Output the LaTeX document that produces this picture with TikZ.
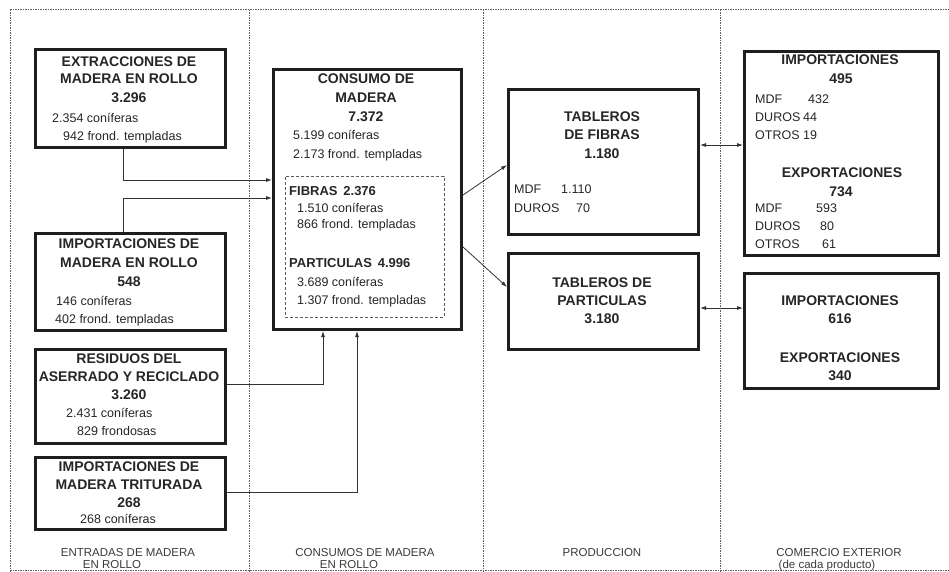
\documentclass[tikz,border=0pt]{standalone}
\usepackage{fontspec}
\setmainfont{Liberation Sans}
\usetikzlibrary{arrows.meta}
\definecolor{txtc}{HTML}{262626}
\definecolor{boxc}{HTML}{1E1E1E}
\definecolor{linec}{HTML}{333333}
\definecolor{labc}{HTML}{3A3A3A}
\definecolor{framec}{HTML}{606060}
\tikzset{
  box/.style={draw=boxc, line width=3pt, anchor=north west, inner sep=0pt},
  innerbox/.style={draw=linec!80, line width=0.8pt, dash pattern=on 3pt off 2pt, anchor=north west, inner sep=0pt},
  ttl/.style={font=\bfseries\fontsize{14}{16}\selectfont, text=txtc, inner sep=0pt, anchor=base},
  sttl/.style={font=\bfseries\fontsize{13}{15}\selectfont, text=txtc, inner sep=0pt, anchor=base west},
  sm/.style={font=\fontsize{12.5}{14}\selectfont, text=txtc, inner sep=0pt, anchor=base west},
  lab/.style={font=\fontsize{11.5}{13}\selectfont, text=labc, inner sep=0pt, anchor=base},
  arr/.style={draw=linec, line width=0.8pt, -{Latex[length=6pt,width=4pt]}},
  darr/.style={draw=linec, line width=0.8pt, {Latex[length=6pt,width=4pt]}-{Latex[length=6pt,width=4pt]}},
  framel/.style={draw=framec, line width=1pt, dash pattern=on 1.5pt off 1pt}
}
\begin{document}
\begin{tikzpicture}[x=1pt,y=-1pt]
\useasboundingbox (0,0) rectangle (949,572);
\clip (0,0) rectangle (949,572);
% frame
\draw[framel] (10,10) -- (949,10);
\draw[framel] (10,570) -- (949,570);
\draw[framel] (10,10) -- (10,572);
\draw[framel] (249,10) -- (249,572);
\draw[framel] (483,10) -- (483,572);
\draw[framel] (720,10) -- (720,572);

% boxes
\node[box, minimum width=190pt, minimum height=98pt] (b1) at (34,48) {};
\node[box, minimum width=190pt, minimum height=97pt] (b2) at (34,232) {};
\node[box, minimum width=190pt, minimum height=94pt] (b3) at (34,348) {};
\node[box, minimum width=190pt, minimum height=72pt] (b4) at (34,456) {};
\node[box, minimum width=188pt, minimum height=260pt] (cons) at (272,68) {};
\node[innerbox, minimum width=159pt, minimum height=141pt] (inb) at (285,176) {};
\node[box, minimum width=190pt, minimum height=145pt] (fib) at (507,88) {};
\node[box, minimum width=190pt, minimum height=96pt] (par) at (507,252) {};
\node[box, minimum width=194pt, minimum height=204pt] (tr1) at (743,50) {};
\node[box, minimum width=194pt, minimum height=115pt] (tr2) at (743,272) {};

% box 1 text
\node[ttl] (b1t1) at (129,67) {EXTRACCIONES DE};
\node[ttl] (b1t2) at (129,84) {MADERA EN ROLLO};
\node[ttl] (b1t3) at (129,103) {3.296};
\node[sm] (b1s1) at (52,122.5) {2.354 coníferas};
\node[sm] (b1s2) at (63,140.5) {942 frond. templadas};

% box 2 text
\node[ttl] (b2t1) at (129,248) {IMPORTACIONES DE};
\node[ttl] (b2t2) at (129,267) {MADERA EN ROLLO};
\node[ttl] (b2t3) at (129,286) {548};
\node[sm] (b2s1) at (56,305.5) {146 coníferas};
\node[sm] (b2s2) at (55,323.5) {402 frond. templadas};

% box 3 text
\node[ttl] (b3t1) at (129,363) {RESIDUOS DEL};
\node[ttl] (b3t2) at (129,381) {ASERRADO Y RECICLADO};
\node[ttl] (b3t3) at (129,399) {3.260};
\node[sm] (b3s1) at (66,417.5) {2.431 coníferas};
\node[sm] (b3s2) at (77,435.5) {829 frondosas};

% box 4 text
\node[ttl] (b4t1) at (129,471) {IMPORTACIONES DE};
\node[ttl] (b4t2) at (129,489) {MADERA TRITURADA};
\node[ttl] (b4t3) at (129,507) {268};
\node[sm] (b4s1) at (80,523.5) {268 coníferas};

% consumo text
\node[ttl] (ct1) at (366,84) {CONSUMO DE};
\node[ttl] (ct2) at (366,103) {MADERA};
\node[ttl] (ct3) at (366,122) {7.372};
\node[sm] (cs1) at (293,139.5) {5.199 coníferas};
\node[sm] (cs2) at (293,158.5) {2.173 frond. templadas};
\node[sttl] (ci1) at (289,195) {FIBRAS\hspace{0.45em}2.376};
\node[sm] (ci2) at (297,212.5) {1.510 coníferas};
\node[sm] (ci3) at (297,228.5) {866 frond. templadas};
\node[sttl] (ci4) at (289,267) {PARTICULAS\hspace{0.45em}4.996};
\node[sm] (ci5) at (297,286.5) {3.689 coníferas};
\node[sm] (ci6) at (297,304.5) {1.307 frond. templadas};

% tableros de fibras
\node[ttl] (ft1) at (602,122) {TABLEROS};
\node[ttl] (ft2) at (602,140) {DE FIBRAS};
\node[ttl] (ft3) at (602,159) {1.180};
\node[sm] (fs1) at (514,193.5) {MDF};
\node[sm] (fs2) at (561,193.5) {1.110};
\node[sm] (fs3) at (514,212.5) {DUROS};
\node[sm] (fs4) at (576,212.5) {70};

% tableros de particulas
\node[ttl] (pt1) at (602,287) {TABLEROS DE};
\node[ttl] (pt2) at (602,305) {PARTICULAS};
\node[ttl] (pt3) at (602,323) {3.180};

% trade box 1
\node[ttl] (r1t1) at (840,65) {IMPORTACIONES};
\node[ttl] (r1t2) at (841,84) {495};
\node[sm] (r1a) at (755,103.5) {MDF};
\node[sm] (r1b) at (808,103.5) {432};
\node[sm] (r1c) at (755,121.5) {DUROS};
\node[sm] (r1d) at (803,121.5) {44};
\node[sm] (r1e) at (755,139.5) {OTROS};
\node[sm] (r1f) at (803,139.5) {19};
\node[ttl] (r1t3) at (842,178) {EXPORTACIONES};
\node[ttl] (r1t4) at (841,196) {734};
\node[sm] (r1g) at (755,212.5) {MDF};
\node[sm] (r1h) at (816,212.5) {593};
\node[sm] (r1i) at (755,230.5) {DUROS};
\node[sm] (r1j) at (820,230.5) {80};
\node[sm] (r1k) at (755,248.5) {OTROS};
\node[sm] (r1l) at (822,248.5) {61};

% trade box 2
\node[ttl] (r2t1) at (840,305) {IMPORTACIONES};
\node[ttl] (r2t2) at (840,323) {616};
\node[ttl] (r2t3) at (840,362) {EXPORTACIONES};
\node[ttl] (r2t4) at (840,380) {340};

% column labels
\node[lab] (l1a) at (128,556) {ENTRADAS DE MADERA};
\node[lab] (l1b) at (112,568.5) {EN ROLLO};
\node[lab] (l2a) at (365,556) {CONSUMOS DE MADERA};
\node[lab] (l2b) at (349,568.5) {EN ROLLO};
\node[lab] (l3a) at (602,556) {PRODUCCION};
\node[lab] (l4a) at (839,556) {COMERCIO EXTERIOR};
\node[lab] (l4b) at (827,568.5) {(de cada producto)};

% helper coordinates
\coordinate (x123) at (123,0);
\coordinate (x323) at (323,0);
\coordinate (x357) at (357,0);
\coordinate (y180) at (0,180);
\coordinate (y198) at (0,198);
\coordinate (y384) at (0,384);
\coordinate (y492) at (0,492);
\coordinate (y195) at (0,195);
\coordinate (y165) at (0,165);
\coordinate (y247) at (0,247);
\coordinate (y287) at (0,287);
\coordinate (y145) at (0,145);
\coordinate (y308) at (0,308);

% connectors
\draw[arr] (b1.south -| x123) |- (cons.west |- y180);
\draw[arr] (b2.north -| x123) |- (cons.west |- y198);
\draw[arr] (b3.east |- y384) -| (cons.south -| x323);
\draw[arr] (b4.east |- y492) -| (cons.south -| x357);
\draw[arr] (cons.east |- y195) -- (fib.west |- y165);
\draw[arr] (cons.east |- y247) -- (par.west |- y287);
\draw[darr] (fib.east |- y145) -- (tr1.west |- y145);
\draw[darr] (par.east |- y308) -- (tr2.west |- y308);
\end{tikzpicture}
\end{document}
